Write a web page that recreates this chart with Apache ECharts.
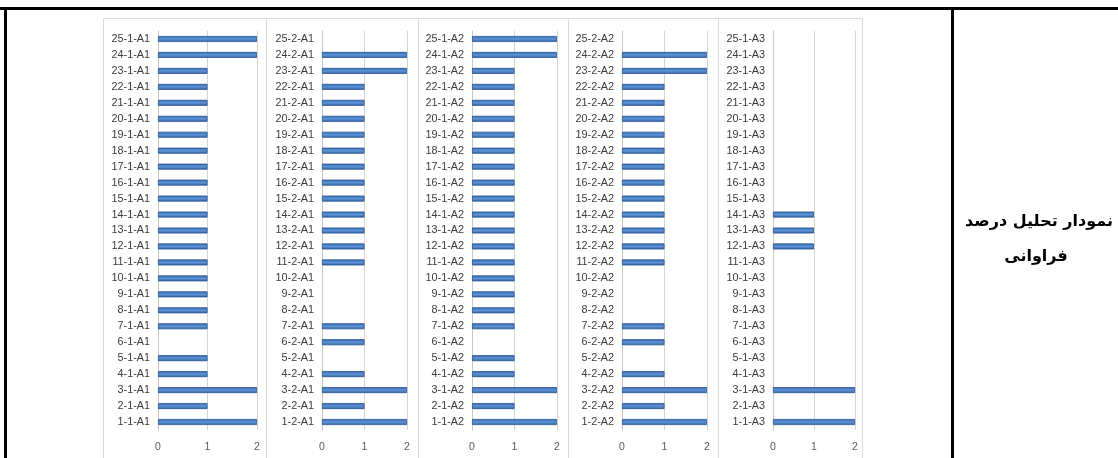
<!DOCTYPE html>
<html><head><meta charset="utf-8">
<script src="https://cdn.jsdelivr.net/npm/echarts@6/dist/echarts.min.js"></script>
<style>html,body{margin:0;padding:0;background:#fff;}#c{width:1118px;height:458px;}</style>
</head><body><div id="c"></div>
<script>
// category index 1..25 (bottom to top)
const idx = Array.from({length:25},(_,i)=>i+1);
const labels1A1 = idx.map(i=>i+'-1-A1');
const labels2A1 = idx.map(i=>i+'-2-A1');
const labels1A2 = idx.map(i=>i+'-1-A2');
const labels2A2 = idx.map(i=>i+'-2-A2');
const labels1A3 = idx.map(i=>i+'-1-A3');
// values for categories 1..25
const vals1A1 = [2,1,2,1,1,0,1,1,1,1,1,1,1,1,1,1,1,1,1,1,1,1,1,2,2];
const vals2A1 = [2,1,2,1,0,1,1,0,0,0,1,1,1,1,1,1,1,1,1,1,1,1,2,2,0];
const vals1A2 = [2,1,2,1,1,0,1,1,1,1,1,1,1,1,1,1,1,1,1,1,1,1,1,2,2];
const vals2A2 = [2,1,2,1,0,1,1,0,0,0,1,1,1,1,1,1,1,1,1,1,1,1,2,2,0];
const vals1A3 = [2,0,2,0,0,0,0,0,0,0,0,1,1,1,0,0,0,0,0,0,0,0,0,0,0];
const xTicks = ['0','1','2'];
const titleLine1 = 'نمودار تحلیل درصد';
const titleLine2 = 'فراوانی';

const panels = [
  {labels:labels1A1, vals:vals1A1, left:158, width:99},
  {labels:labels2A1, vals:vals2A1, left:322, width:85},
  {labels:labels1A2, vals:vals1A2, left:472, width:85},
  {labels:labels2A2, vals:vals2A2, left:622, width:85},
  {labels:labels1A3, vals:vals1A3, left:773, width:82}
];
const panelBoxes = [[103,266],[266,418],[418,568],[568,718],[718,862]];

const grids=[], xAxes=[], yAxes=[], series=[];
panels.forEach((p,k)=>{
  grids.push({left:p.left, top:31, width:p.width, height:399});
  xAxes.push({type:'value', gridIndex:k, min:0, max:2, interval:1,
    axisLine:{show:false}, axisTick:{show:false},
    splitLine:{show:true, lineStyle:{color:'#d4d4d4', width:1}},
    axisLabel:{color:'#595959', fontSize:10.5, fontFamily:'Liberation Sans', margin:12,
      formatter:v=>xTicks[v]}});
  yAxes.push({type:'category', gridIndex:k, data:p.labels,
    axisLine:{show:true, lineStyle:{color:'#c8c8c8'}}, axisTick:{show:false},
    axisLabel:{color:'#3a3a3a', fontSize:10.8, fontFamily:'Liberation Sans', margin:8, interval:0}});
  series.push({type:'bar', xAxisIndex:k, yAxisIndex:k,
    data:p.vals.map(v=> v===0 ? null : v), barWidth:6, silent:true,
    itemStyle:{color:new echarts.graphic.LinearGradient(0,0,0,1,[
      {offset:0,color:'#3569ad'},{offset:0.5,color:'#5d92d4'},{offset:1,color:'#3064a6'}]),
      borderColor:'#2a5690', borderWidth:0.8}});
});

const graphics = [];
panelBoxes.forEach(b=>{
  graphics.push({type:'rect', shape:{x:b[0]+0.5, y:18.5, width:b[1]-b[0], height:460},
    style:{fill:null, stroke:'#dcdcdc', lineWidth:1}, z:-1});
});
graphics.push({type:'rect', shape:{x:0, y:7, width:1118, height:3}, style:{fill:'#000'}});
graphics.push({type:'rect', shape:{x:4, y:7, width:3, height:460}, style:{fill:'#000'}});
graphics.push({type:'rect', shape:{x:951, y:7, width:3, height:460}, style:{fill:'#000'}});
graphics.push({type:'text', x:1039, y:222, style:{text:titleLine1, fill:'#000',
  font:'bold 16px "DejaVu Sans"', textAlign:'center', textVerticalAlign:'middle'}});
graphics.push({type:'text', x:1036, y:257, style:{text:titleLine2, fill:'#000',
  font:'bold 16px "DejaVu Sans"', textAlign:'center', textVerticalAlign:'middle'}});

const chart = echarts.init(document.getElementById('c'), null, {renderer:'canvas'});
chart.setOption({animation:false, grid:grids, xAxis:xAxes, yAxis:yAxes, series:series, graphic:graphics});
</script></body></html>
